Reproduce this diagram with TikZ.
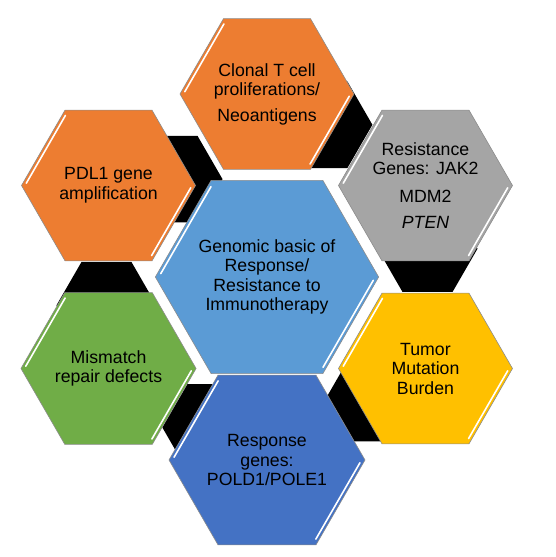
\documentclass[tikz,border=0pt]{standalone}
\usepackage{fontspec}
\setmainfont{Liberation Sans}
\usetikzlibrary{shapes.geometric,calc}

\definecolor{hexorange}{HTML}{ED7D31}
\definecolor{hexgray}{HTML}{A5A5A5}
\definecolor{hexgold}{HTML}{FFC000}
\definecolor{hexsky}{HTML}{5B9BD5}
\definecolor{hexblue}{HTML}{4472C4}
\definecolor{hexgreen}{HTML}{70AD47}

% white bevel strokes on the upper-left and lower-right sides
\newcommand\bevel[1]{%
  \draw[shine] ($(#1.180)!.05!(#1.120)+(-30:3)$) -- ($(#1.180)!.95!(#1.120)+(-30:3)$);
  \draw[shine] ($(#1.0)!.05!(#1.300)+(150:3)$) -- ($(#1.0)!.95!(#1.300)+(150:3)$);}

\begin{document}
\begin{tikzpicture}[x=1pt, y=1pt,
  every node/.style={font=\fontsize{17.7}{19.5}\selectfont},
  hexa/.style={regular polygon, regular polygon sides=6, minimum size=174pt,
               inner sep=0pt, outer sep=0pt, draw=black!45, line width=.6pt,
               align=center},
  tab/.style={regular polygon, regular polygon sides=6, minimum size=100pt,
              inner sep=0pt, outer sep=0pt, fill=black},
  shine/.style={white, line width=1.6pt, line cap=round}
]
  \useasboundingbox (0,0) rectangle (556,557);
  \coordinate (mid) at (267,280);

  % black tabs behind the ring
  \node[tab] (t1) at ($(mid)+(190:163)$) {};
  \node[tab] (t2) at ($(mid)+(250:160)$) {};
  \node[tab] (t3) at ($(mid)+(312:163)$) {};
  \node[tab] (t4) at ($(mid)+(10:163)$) {};
  \node[tab] (t5) at ($(mid)+(70:162)$) {};
  \node[tab] (t6) at ($(mid)+(134:136)$) {};

  \node[hexa, fill=hexsky, minimum size=210pt] (core) at (mid)
    {Genomic basic of\\Response/\\Resistance to\\Immunotherapy};
  \node[hexa, fill=hexorange] (clonal) at ($(core)+(90:183)$)
    {Clonal T cell\\proliferations/\\[6pt]Neoantigens};
  \node[hexa, fill=hexgray] (genes) at ($(core)+(30:183)$)
    {Resistance\\Genes: JAK2\\[8pt]MDM2\\[7pt]\textit{PTEN}};
  \node[hexa, fill=hexgold] (burden) at ($(core)+(-30:183)$)
    {Tumor\\Mutation\\Burden};
  \node[hexa, fill=hexblue] (resp) at ($(core)+(-90:183)$)
    {Response\\genes:\\POLD1/POLE1};
  \node[hexa, fill=hexgreen] (mmr) at ($(core)+(-150:183)$)
    {Mismatch\\repair defects};
  \node[hexa, fill=hexorange] (pdl) at ($(core)+(150:183)$)
    {PDL1 gene\\amplification};

  \foreach \h in {core,clonal,genes,burden,resp,mmr,pdl}{\bevel{\h}}
\end{tikzpicture}
\end{document}
